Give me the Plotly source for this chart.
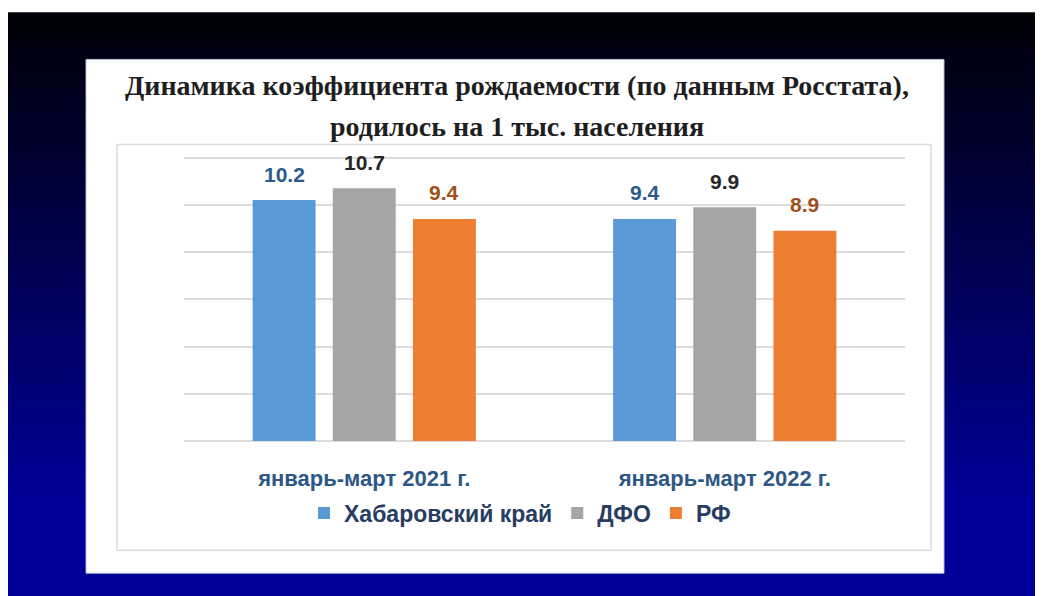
import plotly.graph_objects as go

categories = ["январь-март 2021 г.", "январь-март 2022 г."]
series_names = ["Хабаровский край", "ДФО", "РФ"]
khabarovsk = [10.2, 9.4]
dfo = [10.7, 9.9]
rf = [9.4, 8.9]
title_lines = ["Динамика коэффициента рождаемости (по данным Росстата),",
               "родилось на 1 тыс. населения"]
grid_ticks = [0, 2, 4, 6, 8, 10, 12]

bar_colors = ["#5B9BD5", "#A5A5A5", "#ED7D31"]
label_colors = ["#2A5B8C", "#262626", "#A04E1A"]
values = [khabarovsk, dfo, rf]

W, H = 1043, 596
ymax = 12.15
L, R, B = 176, 897, 433  # plot area pixel bounds (figure coords)
T = B - (B - 150) * ymax / 12.0
bargap = 0.333
bargroupgap = 0.215


def px_to_paper_x(px):
    return (px - L) / (R - L)


def px_to_paper_y(py):
    return (B - py) / (B - T)


fig = go.Figure()
for name, vals, col in zip(series_names, values, bar_colors):
    fig.add_trace(go.Bar(x=categories, y=vals, name=name, marker_color=col,
                         marker_line_width=0, hoverinfo="skip"))

shapes = []
# gradient background bands (each band extends to the bottom to avoid seams)
y0_px, y1_px = 5, 492
n = 70
top_col = (0, 0, 6)
bot_col = (0, 0, 153)
for i in range(n + 1):
    a = y0_px + (y1_px - y0_px) * i / n
    t = min(1.0, (i + 0.5) / n)
    c = tuple(int(round(top_col[k] + (bot_col[k] - top_col[k]) * t)) for k in range(3))
    shapes.append(dict(type="rect", xref="paper", yref="paper", layer="below",
                       x0=px_to_paper_x(-2), x1=px_to_paper_x(W + 2),
                       y0=px_to_paper_y(H + 2), y1=px_to_paper_y(a),
                       fillcolor="rgb(%d,%d,%d)" % c, line_width=0))
# white panel
shapes.append(dict(type="rect", xref="paper", yref="paper", layer="below",
                   x0=px_to_paper_x(78), x1=px_to_paper_x(936),
                   y0=px_to_paper_y(565), y1=px_to_paper_y(52),
                   fillcolor="white", line=dict(color="#B8BCD0", width=1)))
# inner chart border
shapes.append(dict(type="rect", xref="paper", yref="paper", layer="below",
                   x0=px_to_paper_x(109), x1=px_to_paper_x(923),
                   y0=px_to_paper_y(542), y1=px_to_paper_y(137),
                   fillcolor="rgba(0,0,0,0)", line=dict(color="#DCDCDC", width=1.5)))

annotations = []
slot = (1 - bargap) / len(series_names)
for j, (vals, lc) in enumerate(zip(values, label_colors)):
    off = (j - (len(series_names) - 1) / 2) * slot
    for i, v in enumerate(vals):
        annotations.append(dict(x=i + off, y=v, xref="x", yref="y", text="<b>%.1f</b>" % v,
                                showarrow=False, yanchor="middle", yshift=26,
                                font=dict(family="Liberation Sans, Arial", size=21, color=lc)))

for line, ypx in zip(title_lines, [78, 119]):
    annotations.append(dict(x=px_to_paper_x(509), y=px_to_paper_y(ypx), xref="paper", yref="paper",
                            text="<b>" + line + "</b>", showarrow=False,
                            xanchor="center", yanchor="middle",
                            font=dict(family="Liberation Serif, Times New Roman", size=28, color="#1E1E1E")))

fig.update_layout(
    width=W, height=H,
    margin=dict(l=L, r=W - R, t=T, b=H - B, pad=0),
    paper_bgcolor="white",
    plot_bgcolor="rgba(0,0,0,0)",
    barmode="group",
    bargap=bargap,
    bargroupgap=bargroupgap,
    shapes=shapes,
    annotations=annotations,
    showlegend=True,
    legend=dict(orientation="h", x=px_to_paper_x(512), xanchor="center",
                y=px_to_paper_y(505), yanchor="middle",
                font=dict(family="Liberation Sans, Arial", size=23, color="#273D63", weight="bold"),
                bgcolor="rgba(0,0,0,0)", itemwidth=30, tracegroupgap=0),
    xaxis=dict(showgrid=False, zeroline=False, showline=False,
               ticks="outside", ticklen=18, tickcolor="rgba(0,0,0,0)",
               tickfont=dict(family="Liberation Sans, Arial", size=22, color="#2D5886", weight="bold")),
    yaxis=dict(range=[0, ymax], tickvals=grid_ticks, showgrid=True,
               gridcolor="#DCDCDC", gridwidth=1.5,
               zeroline=True, zerolinecolor="#DCDCDC", zerolinewidth=1.5,
               showticklabels=False, showline=False, fixedrange=True),
)

fig.write_html("out.html")
